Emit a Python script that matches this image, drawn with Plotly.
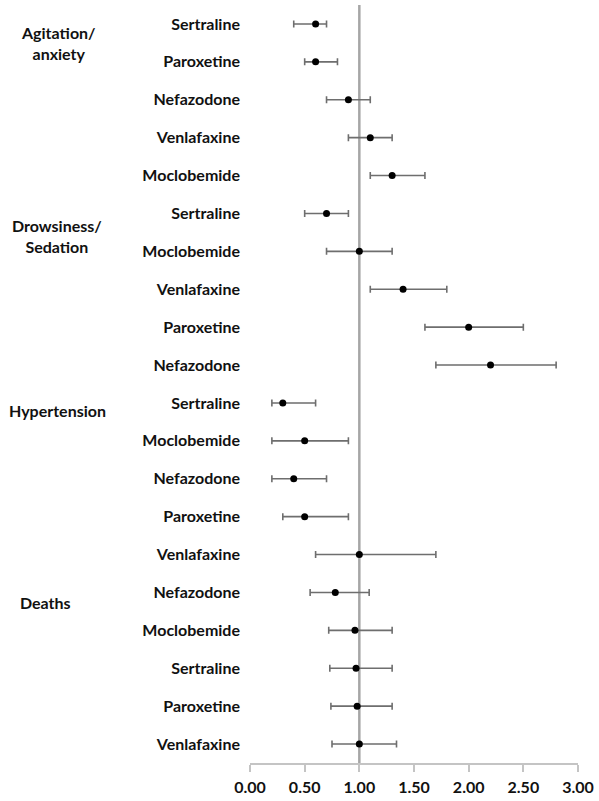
import plotly.graph_objects as go

# ---- data ----
drugs = ["Sertraline", "Paroxetine", "Nefazodone", "Venlafaxine", "Moclobemide",
         "Sertraline", "Moclobemide", "Venlafaxine", "Paroxetine", "Nefazodone",
         "Sertraline", "Moclobemide", "Nefazodone", "Paroxetine", "Venlafaxine",
         "Nefazodone", "Moclobemide", "Sertraline", "Paroxetine", "Venlafaxine"]
estimate = [0.6, 0.6, 0.9, 1.1, 1.3,
            0.7, 1.0, 1.4, 2.0, 2.2,
            0.3, 0.5, 0.4, 0.5, 1.0,
            0.78, 0.96, 0.97, 0.98, 1.0]
ci_low = [0.4, 0.5, 0.7, 0.9, 1.1,
          0.5, 0.7, 1.1, 1.6, 1.7,
          0.2, 0.2, 0.2, 0.3, 0.6,
          0.55, 0.72, 0.73, 0.74, 0.75]
ci_high = [0.7, 0.8, 1.1, 1.3, 1.6,
           0.9, 1.3, 1.8, 2.5, 2.8,
           0.6, 0.9, 0.7, 0.9, 1.7,
           1.09, 1.30, 1.30, 1.30, 1.34]
groups = ["Agitation/<br>anxiety", "Drowsiness/<br>Sedation", "Hypertension", "Deaths"]
x_ticks = [0, 0.5, 1.0, 1.5, 2.0, 2.5, 3.0]
x_tick_labels = ["0.00", "0.50", "1.00", "1.50", "2.00", "2.50", "3.00"]
ref_value = 1.0

rows = list(range(len(drugs)))
err_plus = [h - e for h, e in zip(ci_high, estimate)]
err_minus = [e - l for e, l in zip(estimate, ci_low)]

FONT = "Lato"
FS = 16
W, H = 599, 801
ML, MR, MT, MB = 250, 16, 5, 34
PW, PH = W - ML - MR, H - MT - MB

fig = go.Figure()

# reference line at 1
fig.add_shape(type="line", xref="x", yref="paper", x0=ref_value, x1=ref_value,
              y0=0, y1=1, line=dict(color="#a6a6a6", width=2.5), layer="below")

fig.add_trace(go.Scatter(
    x=estimate, y=rows, mode="markers",
    marker=dict(color="black", size=7),
    error_x=dict(type="data", symmetric=False, array=err_plus, arrayminus=err_minus,
                 color="#6e6e6e", thickness=1.6, width=3.5),
    showlegend=False, hoverinfo="skip"))

# group labels (pixel centres)
group_pos = [(56, 43), (54, 237), (55, 413), (42, 606)]
for text, (px, py) in zip(groups, group_pos):
    fig.add_annotation(text=text, xref="paper", yref="paper",
                       x=(px - ML) / PW, y=(H - MB - py) / PH,
                       xanchor="center", yanchor="middle", showarrow=False,
                       align="center",
                       font=dict(family=FONT, size=FS, color="#111", weight="bold"))

fig.update_layout(
    width=W, height=H,
    margin=dict(l=ML, r=MR, t=MT, b=MB, pad=0),
    paper_bgcolor="white", plot_bgcolor="white",
    xaxis=dict(range=[0, 3], tickvals=x_ticks, ticktext=x_tick_labels,
               showgrid=False, zeroline=False,
               showline=True, linecolor="#c4c4c4", linewidth=1.5,
               ticks="outside", ticklen=7, tickcolor="#c4c4c4", tickwidth=1.5,
               ticklabelstandoff=2,
               tickfont=dict(family=FONT, size=FS, color="#111", weight="bold")),
    yaxis=dict(range=[len(drugs) - 0.5, -0.5], tickvals=rows, ticktext=drugs,
               showgrid=False, zeroline=False, showline=False, ticks="",
               ticklabelstandoff=9,
               tickfont=dict(family=FONT, size=FS, color="#111", weight="bold")),
)

fig.write_html("out.html", config={"displayModeBar": False},
               post_script="document.body.style.margin='0px';document.body.style.overflow='hidden';")
